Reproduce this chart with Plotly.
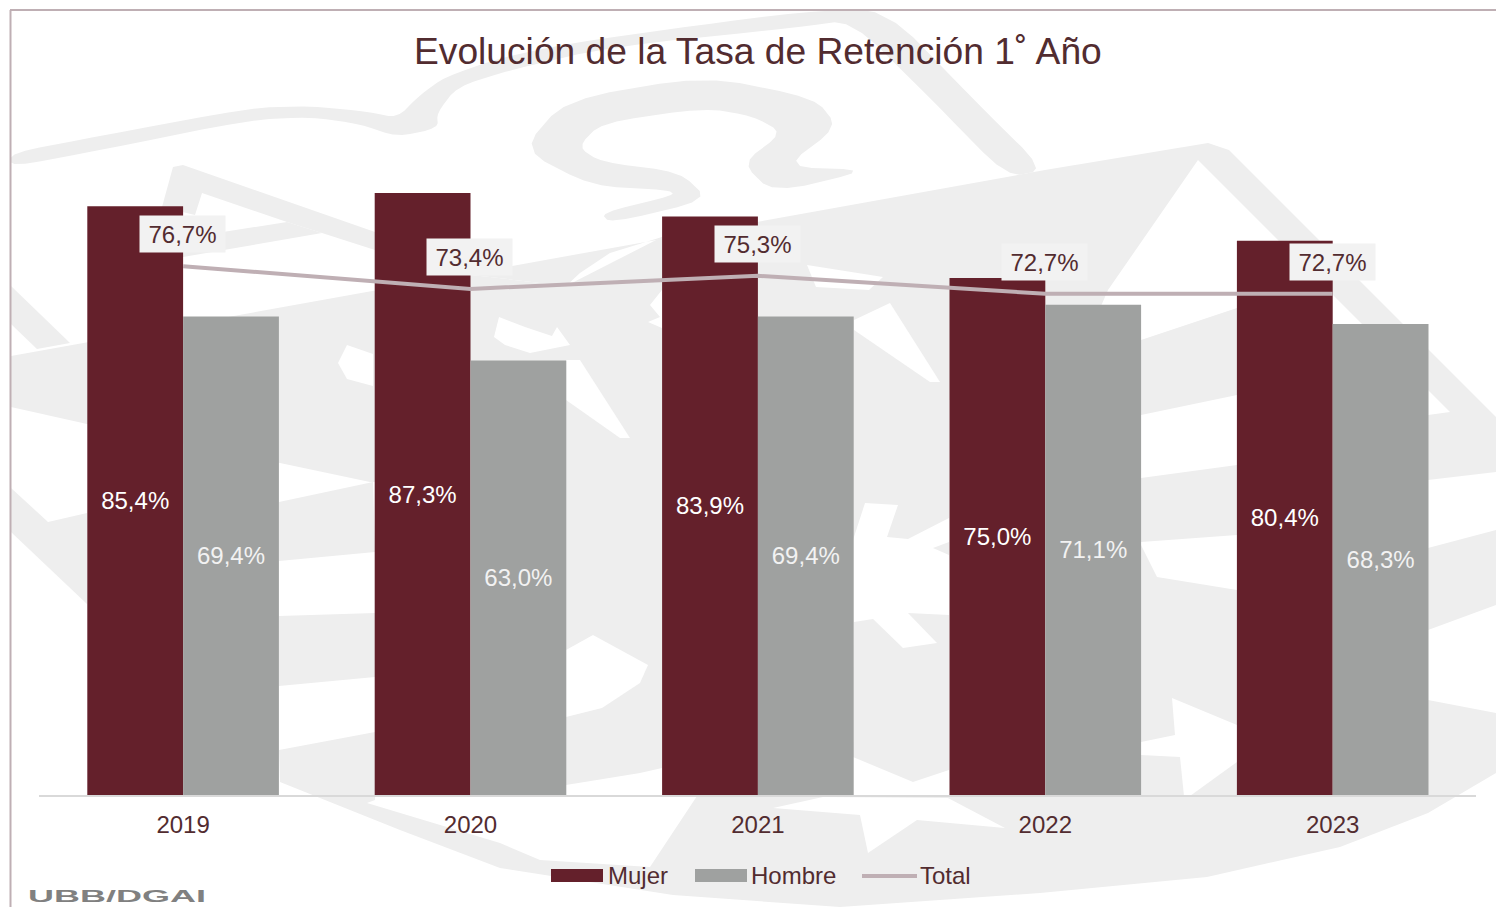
import plotly.graph_objects as go

years = ["2019", "2020", "2021", "2022", "2023"]
mujer = [85.4, 87.3, 83.9, 75.0, 80.4]
hombre = [69.4, 63.0, 69.4, 71.1, 68.3]
total = [76.7, 73.4, 75.3, 72.7, 72.7]

W, H = 1496, 907
BURG, GREY, LINE = "#64202B", "#9FA1A0", "#BFAFB4"
INK, WM, FONT = "#522C30", "#EEEEEE", "Liberation Sans, Arial, sans-serif"

def fmt(v):
    return f"{v:.1f}%".replace(".", ",")

def px_path(pts):
    return "M" + " L".join(f"{x/W:.5f},{1-y/H:.5f}" for x, y in pts) + " Z"

def soften(pts, rounds=2):
    for _ in range(rounds):
        out = []
        for i, (x0, y0) in enumerate(pts):
            x1, y1 = pts[(i + 1) % len(pts)]
            out.append((0.8 * x0 + 0.2 * x1, 0.8 * y0 + 0.2 * y1))
            out.append((0.2 * x0 + 0.8 * x1, 0.2 * y0 + 0.8 * y1))
        pts = out
    return pts

# Faint background emblem, traced in page pixels
wm_curved = [
    [(11,153),(100,136),(250,108),(310,106),(370,112),(397,118),(420,95),(445,77),(500,58),(571,43),(700,25),(801,12),(885,8),(974,100),(1045,170),(1007,177),(932,100),(851,20),(800,27),(610,47),(510,70),(457,87),(437,113),(438,128),(397,137),(360,124),(310,117),(250,120),(100,150),(11,167)],
    [(522,150),(565,100),(704,76),(815,98),(838,127),(784,167),(871,170),(773,193),(742,163),(783,133),(753,116),(704,108),(601,123),(578,147),(601,162),(680,172),(709,200),(610,223),(601,213),(675,195),(668,190),(592,186)],
]
wm_grey = [
    [(162,207),(173,167),(183,165),(375,232),(375,250),(322,233),(287,222),(202,193),(195,215)],
    [(183,257),(183,240),(223,232),(287,222),(322,233)],
    [(11,286),(70,343),(37,349),(11,324)],
    [(11,356),(1007,177),(1045,170),(1208,143),(1229,150),(1496,417),(1496,472),(1428,480),(1428,415),(1450,412),(1198,160),(1108,290),(1060,400),(949,400),(949,518),(908,539),(887,537),(898,505),(865,503),(853,540),(662,540),(662,237),(610,253),(580,273),(566,286),(490,277),(470,275),(375,290),(375,482),(370,482),(280,463),(87,424),(11,407)],
    [(470,275),(490,277),(566,286),(566,362),(470,362)],
    [(566,286),(662,237),(662,768),(640,773),(566,785)],
    [(11,488),(48,522),(87,513),(87,604),(11,532)],
    [(279,502),(373,482),(375,552),(279,561)],
    [(279,616),(375,613),(375,677),(279,686)],
    [(279,750),(375,732),(375,800),(367,803),(500,843),(540,860),(650,867),(697,796),(1428,796),(1428,700),(1496,713),(1496,773),(1428,813),(1340,847),(1207,877),(1040,893),(840,907),(673,895),(500,868),(400,830),(280,782)],
    [(854,622),(873,619),(903,648),(937,643),(908,613),(949,615),(949,770),(913,782),(853,757)],
    [(933,548),(949,542),(949,555)],
    [(1141,340),(1237,308),(1237,395),(1141,415)],
    [(1141,478),(1237,465),(1237,535),(1141,542)],
    [(1141,545),(1157,577),(1237,590),(1237,725),(1172,698),(1175,735),(1141,742)],
    [(1141,755),(1180,757),(1184,796),(1141,796)],
    [(1190,796),(1237,762),(1237,796)],
    [(1428,548),(1496,530),(1496,605),(1428,630)],
]
wm_white = [
    [(347,345),(373,354),(373,386),(347,379),(338,363)],
    [(499,317),(525,327),(552,336),(557,327),(570,345),(530,353),(505,345),(494,337)],
    [(566,360),(580,360),(630,438),(620,438),(566,400)],
    [(593,635),(648,665),(640,683),(602,708),(566,717),(566,650)],
    [(662,290),(650,305),(660,317),(648,322),(662,328)],
    [(807,265),(883,277),(869,290),(816,287)],
    [(890,303),(940,382),(930,382),(854,330),(854,320)],
    [(773,808),(860,815),(868,853),(917,820),(1005,828),(948,798),(823,797)],
]

shapes = []
for poly in wm_curved:
    shapes.append(dict(type="path", xref="paper", yref="paper", layer="below", path=px_path(soften(poly)), fillcolor=WM, line_width=0))
for poly in wm_grey:
    shapes.append(dict(type="path", xref="paper", yref="paper", layer="below", path=px_path(poly), fillcolor=WM, line_width=0))
for poly in wm_white:
    shapes.append(dict(type="path", xref="paper", yref="paper", layer="below", path=px_path(poly), fillcolor="#FFFFFF", line_width=0))

# Frame, open to the right and the bottom
shapes += [
    dict(type="line", xref="paper", yref="paper", x0=10.5/W, x1=10.5/W, y0=0, y1=1-10/H, line=dict(color=LINE, width=2)),
    dict(type="line", xref="paper", yref="paper", x0=10/W, x1=1, y0=1-10/H, y1=1-10/H, line=dict(color=LINE, width=2)),
]

# Legend swatches
shapes += [
    dict(type="rect", xref="paper", yref="paper", x0=551/W, x1=603/W, y0=1-882/H, y1=1-869/H, fillcolor=BURG, line_width=0),
    dict(type="rect", xref="paper", yref="paper", x0=695/W, x1=747/W, y0=1-882/H, y1=1-869/H, fillcolor=GREY, line_width=0),
    dict(type="line", xref="paper", yref="paper", x0=862/W, x1=917/W, y0=1-876/H, y1=1-876/H, line=dict(color=LINE, width=4)),
]

annotations = []
for i, v in enumerate(total):
    annotations.append(dict(x=i, y=v, xref="x", yref="y", yshift=32, xshift=-0.6, text=fmt(v), showarrow=False,
                            bgcolor="#F2F2F2", width=83, height=34, align="center", valign="middle",
                            font=dict(family=FONT, size=24, color=INK)))
for label, x in [("Mujer", 606), ("Hombre", 749), ("Total", 918)]:
    annotations.append(dict(x=x/W, y=1-875/H, xref="paper", yref="paper", xanchor="left", yanchor="middle",
                            text=label, showarrow=False, font=dict(family=FONT, size=24, color=INK)))
annotations.append(dict(x=117/W, y=1-896.5/H, xref="paper", yref="paper", xanchor="center", yanchor="middle",
                        text="UBB/DGAI", showarrow=False, font=dict(family=FONT, size=17, color="#808080", weight="bold")))
annotations.append(dict(x=758/W, y=1-51/H, xref="paper", yref="paper", xanchor="center", yanchor="middle",
                        text="Evolución de la Tasa de Retención 1˚ Año", showarrow=False,
                        font=dict(family=FONT, size=37.2, color=INK)))

fig = go.Figure()
fig.add_bar(x=years, y=mujer, name="Mujer", marker=dict(color=BURG, line_width=0), text=[fmt(v) for v in mujer],
            textposition="inside", insidetextanchor="middle", textangle=0,
            textfont=dict(family=FONT, size=24, color="#FFFFFF"))
fig.add_bar(x=years, y=hombre, name="Hombre", marker=dict(color=GREY, line_width=0), text=[fmt(v) for v in hombre],
            textposition="inside", insidetextanchor="middle", textangle=0,
            textfont=dict(family=FONT, size=24, color="#F2F2F2"))
fig.add_scatter(x=years, y=total, name="Total", mode="lines", line=dict(color=LINE, width=4))

fig.update_layout(
    width=W, height=H, autosize=False,
    margin=dict(l=0, r=0, t=0, b=0),
    paper_bgcolor="#FFFFFF", plot_bgcolor="rgba(0,0,0,0)",
    barmode="group", bargap=1/3, bargroupgap=0,
    showlegend=False, shapes=shapes, annotations=annotations,
    font=dict(family=FONT, color=INK, size=24),
    xaxis=dict(domain=[39.4/W, 1476.4/W], type="category", range=[-0.5, 4.5], automargin=False,
               showline=True, linecolor="#D9D9D9", linewidth=2,
               ticks="", ticklabelstandoff=7, showgrid=False, zeroline=False,
               tickfont=dict(family=FONT, size=24, color=INK)),
    yaxis=dict(domain=[1-795/H, 1-105.5/H], range=[0, 100], visible=False, showgrid=False, zeroline=False, automargin=False),
)

post = """
document.documentElement.style.overflow='hidden';
document.body.style.margin='0';
document.querySelectorAll('.annotation-text').forEach(function(t){
  if(t.textContent==='UBB/DGAI'){t.setAttribute('textLength','178');t.setAttribute('lengthAdjust','spacingAndGlyphs');}
});
"""
fig.write_html("out.html", post_script=post, config=dict(displayModeBar=False))
